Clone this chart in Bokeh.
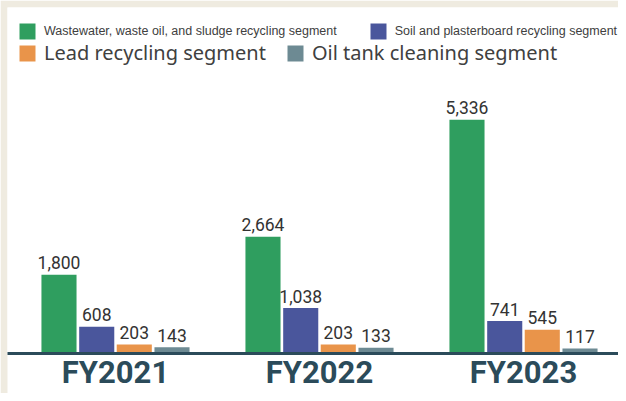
from bokeh.plotting import figure
from bokeh.models import (ColumnDataSource, Range1d, FixedTicker, Legend, LegendItem)
from bokeh.transform import dodge
from bokeh.core.properties import value
from bokeh.embed import file_html
from bokeh.resources import INLINE

years = ["FY2021", "FY2022", "FY2023"]
wastewater = [1800, 2664, 5336]
soil = [608, 1038, 741]
lead = [203, 203, 545]
oiltank = [143, 133, 117]

seg_names = [
    "Wastewater, waste oil, and sludge recycling segment",
    "Soil and plasterboard recycling segment",
    "Lead recycling segment",
    "Oil tank cleaning segment",
]
seg_keys = ["wastewater", "soil", "lead", "oiltank"]
seg_colors = ["#2f9e5f", "#4a569c", "#e9944a", "#6d8a93"]
seg_offsets = [-0.277, -0.092, 0.092, 0.277]

fmt = lambda vals: ["{:,}".format(v) for v in vals]
src = ColumnDataSource(dict(
    x=list(range(len(years))),
    wastewater=wastewater, soil=soil, lead=lead, oiltank=oiltank,
    wastewater_l=fmt(wastewater), soil_l=fmt(soil), lead_l=fmt(lead), oiltank_l=fmt(oiltank),
))

p = figure(width=618, height=393, output_backend="svg", toolbar_location=None,
           x_range=Range1d(-0.5294, 2.4657), y_range=Range1d(0, 7900),
           min_border_left=7, min_border_right=0, min_border_top=7, min_border_bottom=0,
           background_fill_color="white", border_fill_color="#efebe0", outline_line_color=None)

renderers = []
for key, col, off in zip(seg_keys, seg_colors, seg_offsets):
    r = p.vbar(x=dodge("x", off, range=p.x_range), top=key, width=0.172, bottom=0,
               source=src, fill_color=col, line_color=None)
    renderers.append(r)
    p.text(x=dodge("x", off, range=p.x_range), y=key, text=key + "_l", source=src,
           text_align="center", text_baseline="alphabetic", y_offset=-12,
           text_font=value("Roboto"), text_font_size="17.5px",
           text_color="#333333")

p.xgrid.visible = False
p.ygrid.visible = False
p.yaxis.visible = False
ax = p.xaxis[0]
ax.ticker = FixedTicker(ticks=list(range(len(years))))
ax.major_label_overrides = {i: y for i, y in enumerate(years)}
ax.axis_line_color = "#2b4b5a"
ax.axis_line_width = 3
ax.major_tick_line_color = None
ax.minor_tick_line_color = None
ax.major_tick_out = 0
ax.major_tick_in = 0
ax.major_label_text_font = "Roboto"
ax.major_label_text_font_style = "bold"
ax.major_label_text_font_size = "31px"
ax.major_label_text_color = "#2b4b5a"
ax.major_label_standoff = 0
ax.background_fill_color = "white"

leg1 = Legend(items=[LegendItem(label=seg_names[i], renderers=[renderers[i]]) for i in (0, 1)],
              location=(10, 312), orientation="horizontal", spacing=31,
              glyph_width=20, glyph_height=20, label_height=20, label_standoff=7,
              label_text_font="Liberation Sans", label_text_font_size="12.5px",
              label_text_color="#404040", padding=0, margin=0,
              border_line_color=None, background_fill_alpha=0)
leg2 = Legend(items=[LegendItem(label=seg_names[i], renderers=[renderers[i]]) for i in (2, 3)],
              location=(10, 287), orientation="horizontal", spacing=19,
              glyph_width=20, glyph_height=20, label_height=20, label_standoff=7,
              label_text_font="Noto Sans", label_text_font_size="20px",
              label_text_color="#404040", padding=0, margin=0,
              border_line_color=None, background_fill_alpha=0)
p.add_layout(leg1)
p.add_layout(leg2)

html = file_html(p, INLINE)
open("out.html", "w").write(html)
